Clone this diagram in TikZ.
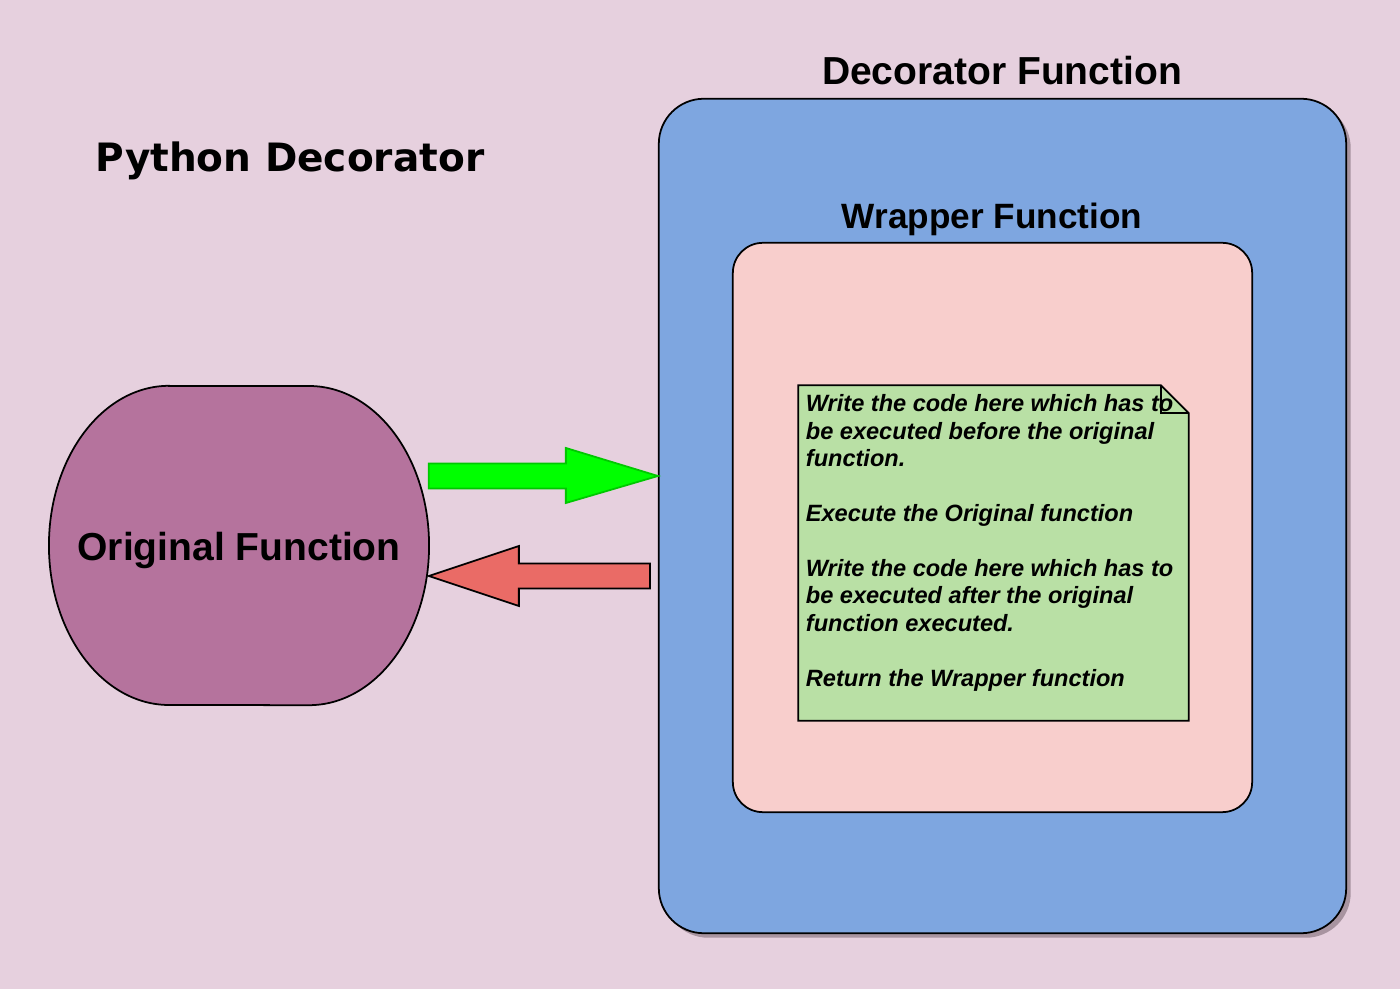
\documentclass[tikz,border=0pt]{standalone}
\usepackage{fontspec}
\setmainfont{Liberation Sans}
\newfontfamily\dejavufont{DejaVu Sans}
\usetikzlibrary{calc,shadows}

\definecolor{bgpink}{RGB}{230,208,222}
\definecolor{decoblue}{RGB}{126,166,224}
\definecolor{wrappink}{RGB}{248,206,204}
\definecolor{notegreen}{RGB}{185,224,165}
\definecolor{origpurple}{RGB}{181,115,157}
\definecolor{arrowred}{RGB}{234,107,102}
\definecolor{arrowgreen}{RGB}{0,255,0}
\definecolor{arrowgreenline}{RGB}{0,200,0}
\definecolor{shadowgrey}{RGB}{168,148,160}

\tikzset{
  bigtitle/.style={font=\fontsize{11.1}{13}\selectfont\bfseries, inner sep=0pt},
  boxtitle/.style={font=\fontsize{11.1}{13}\selectfont\bfseries, inner sep=0pt},
  decobox/.style={draw=black, line width=0.5pt, fill=decoblue, rounded corners=0.45cm,
    minimum width=6.87cm, minimum height=8.34cm, inner sep=0pt,
    drop shadow={shadow xshift=0.045cm, shadow yshift=-0.045cm, fill=shadowgrey, opacity=1}},
  wrapbox/.style={draw=black, line width=0.5pt, fill=wrappink, rounded corners=0.3cm,
    minimum width=5.19cm, minimum height=5.69cm, inner sep=0pt},
  notebox/.style={minimum width=3.89cm, minimum height=3.34cm, inner sep=0pt},
  notetext/.style={font=\fontsize{6.7}{7.8}\selectfont\bfseries\itshape, align=left, inner sep=0pt},
  blockarrow/.style={line width=0.5pt, line join=miter}
}

\begin{document}
\begin{tikzpicture}[x=0.01cm, y=-0.01cm]

\fill[bgpink] (0,0) rectangle (1400,989);

% left part
\node[bigtitle] (pytitle) at (290,172) [anchor=base] {\dejavufont\bfseries Python Decorator};

\fill[origpurple] (169,386) -- (309,386) arc[start angle=90, end angle=-90, x radius=1.2cm, y radius=1.595cm]
  -- (169,705) arc[start angle=-90, end angle=-270, x radius=1.2cm, y radius=1.595cm] -- cycle;
\draw[line width=0.5pt] (169,386) -- (309,386) arc[start angle=90, end angle=-90, x radius=1.2cm, y radius=1.595cm]
  -- (169,705) arc[start angle=-90, end angle=-270, x radius=1.2cm, y radius=1.595cm] -- cycle;
\node[inner sep=0pt, minimum width=3.78cm, minimum height=3.19cm] (orig) at (239,545.5) {};
\node[boxtitle] (origtext) at (239,561) [anchor=base] {Original Function};

% decorator
\node[decobox] (deco) at (1002.5,516) {};
\node[boxtitle] (decotitle) at (1002,85) [anchor=base] {Decorator Function};

\node[wrapbox] (wrap) at (992.5,527.5) {};
\node[boxtitle, font=\fontsize{10}{12}\selectfont\bfseries] (wraptitle) at (992,229) [anchor=base] {Wrapper Function};

% note
\node[notebox] (note) at (993.5,553) {};
\filldraw[fill=notegreen, draw=black, line width=0.5pt]
  (note.north west) -- ($(note.north east)+(-0.28cm,0)$) -- ($(note.north east)+(0,-0.28cm)$)
  -- (note.south east) -- (note.south west) -- cycle;
\draw[line width=0.5pt] ($(note.north east)+(-0.28cm,0)$) -- ++(0,-0.28cm) -- ++(0.28cm,0);
\node[notetext, anchor=north west] (notebody) at ($(note.north west)+(0.07cm,-0.09cm)$)
  {Write the code here which has to\\ be executed before the original\\ function.\\[7.8pt]
   Execute the Original function\\[7.8pt]
   Write the code here which has to\\ be executed after the original\\ function executed.\\[7.8pt]
   Return the Wrapper function};

% arrows
\coordinate (gtail) at (orig.east |- 0,476);
\coordinate (gtip) at (deco.west |- gtail);
\filldraw[blockarrow, fill=arrowgreen, draw=arrowgreenline]
  ($(gtail)+(0,-0.125cm)$) -- ($(gtip)+(-0.92cm,-0.125cm)$) -- ($(gtip)+(-0.92cm,-0.27cm)$) -- (gtip)
  -- ($(gtip)+(-0.92cm,0.28cm)$) -- ($(gtip)+(-0.92cm,0.125cm)$) -- ($(gtail)+(0,0.125cm)$) -- cycle;

\coordinate (rtail) at (650,576);
\coordinate (rtip) at (orig.east |- rtail);
\filldraw[blockarrow, fill=arrowred, draw=black]
  ($(rtail)+(0,0.125cm)$) -- ($(rtip)+(0.9cm,0.125cm)$) -- ($(rtip)+(0.9cm,0.3cm)$) -- (rtip)
  -- ($(rtip)+(0.9cm,-0.3cm)$) -- ($(rtip)+(0.9cm,-0.125cm)$) -- ($(rtail)+(0,-0.125cm)$) -- cycle;

\end{tikzpicture}
\end{document}
